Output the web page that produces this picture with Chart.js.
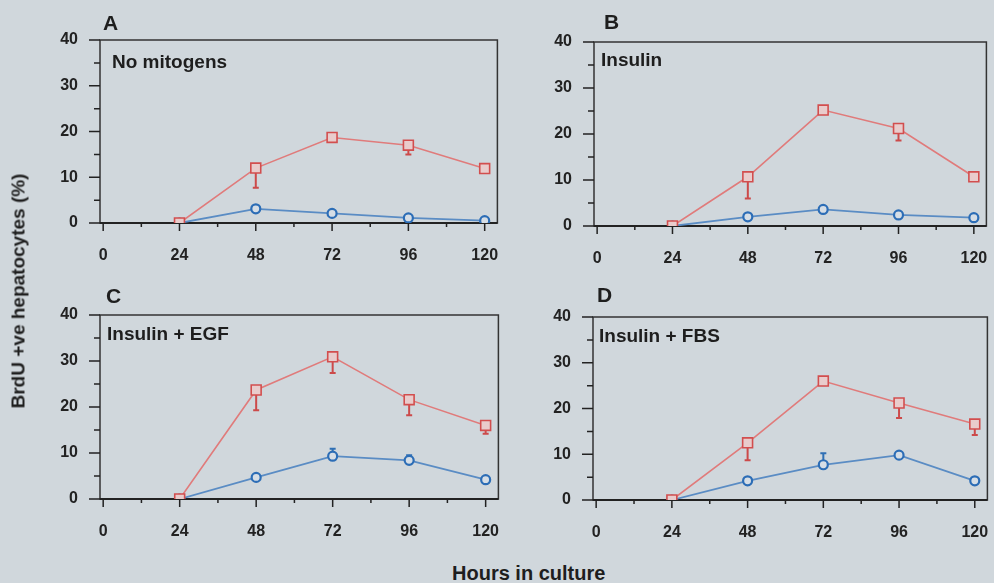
<!DOCTYPE html>
<html>
<head>
<meta charset="utf-8">
<script src="https://cdn.jsdelivr.net/npm/chart.js@4.4.0/dist/chart.umd.min.js"></script>
<style>
  body { margin: 0; width: 994px; height: 583px; overflow: hidden; position: relative;
         background: #d0d7dc; font-family: "Liberation Sans", Arial, sans-serif; font-weight: bold; color: #1e1e1e; }
  canvas { position: absolute; }
  .lbl { position: absolute; line-height: 1; white-space: nowrap; z-index: 2; }
  .letter { font-size: 21px; }
  .cond { font-size: 19px; }
</style>
</head>
<body>
<canvas id="chartA"></canvas>
<canvas id="chartB"></canvas>
<canvas id="chartC"></canvas>
<canvas id="chartD"></canvas>

<div class="lbl letter" style="left:103px;top:12px">A</div>
<div class="lbl letter" style="left:604px;top:11px">B</div>
<div class="lbl letter" style="left:106px;top:285px">C</div>
<div class="lbl letter" style="left:597px;top:284px">D</div>

<div class="lbl cond" style="left:112px;top:52px">No mitogens</div>
<div class="lbl cond" style="left:601px;top:50px">Insulin</div>
<div class="lbl cond" style="left:107px;top:324px">Insulin + EGF</div>
<div class="lbl cond" style="left:599px;top:326px">Insulin + FBS</div>

<div class="lbl" style="font-size:19px;left:18px;top:291px;transform:translate(-50%,-50%) rotate(-90deg)">BrdU +ve hepatocytes (%)</div>
<div class="lbl" style="font-size:20px;left:452px;top:563px">Hours in culture</div>

<script>
// time points (hours in culture)
const hours = [24, 48, 72, 96, 120];

// axis ticks
const xTicks = [0, 24, 48, 72, 96, 120];
const xMinor = [12, 36, 60, 84, 108];
const yTicks = [0, 10, 20, 30, 40];
const yMinor = [5, 15, 25, 35];

// A: no mitogens
const redA = [0, 12.0, 18.7, 17.0, 11.9];
const redErrA = [0, 4.3, 0.4, 2.0, 0];
const blueA = [0, 3.1, 2.1, 1.1, 0.5];
const blueErrA = [0, 0, 0, 0, 0];

// B: insulin
const redB = [0, 10.7, 25.2, 21.2, 10.7];
const redErrB = [0, 4.7, 0, 2.6, 0];
const blueB = [0, 2.0, 3.6, 2.4, 1.8];
const blueErrB = [0, 0, 0, 0, 0];

// C: insulin + EGF
const redC = [0, 23.7, 30.9, 21.6, 16.0];
const redErrC = [0, 4.4, 3.5, 3.4, 1.8];
const blueC = [0, 4.7, 9.3, 8.4, 4.2];
const blueErrC = [0, 0, 1.6, 1.1, 0];

// D: insulin + FBS
const redD = [0, 12.5, 26.0, 21.2, 16.6];
const redErrD = [0, 3.8, 0.7, 3.3, 2.4];
const blueD = [0, 4.2, 7.7, 9.8, 4.2];
const blueErrD = [0, 0, 2.5, 0, 0];

// plot area of each panel, in page pixels
const panels = [
  { id: 'chartA', left: 100, top: 40,  right: 497, bottom: 223, red: redA, redErr: redErrA, blue: blueA, blueErr: blueErrA },
  { id: 'chartB', left: 594, top: 42,  right: 986, bottom: 226, red: redB, redErr: redErrB, blue: blueB, blueErr: blueErrB },
  { id: 'chartC', left: 100, top: 315, right: 498, bottom: 499, red: redC, redErr: redErrC, blue: blueC, blueErr: blueErrC },
  { id: 'chartD', left: 593, top: 317, right: 987, bottom: 500, red: redD, redErr: redErrD, blue: blueD, blueErr: blueErrD },
];

const INK = '#222';
const tickFont = { family: '"Liberation Sans", Arial, sans-serif', size: 16, weight: 'bold' };

// box, tick marks and one-sided error bars
const framePlugin = {
  id: 'framePlugin',
  beforeDatasetsDraw(chart) {
    const { ctx, chartArea: a, scales: { x, y } } = chart;
    ctx.save();
    ctx.strokeStyle = '#333';
    ctx.lineWidth = 1.5;
    ctx.strokeRect(a.left, a.top, a.right - a.left, a.bottom - a.top);
    ctx.strokeStyle = INK;
    ctx.lineWidth = 2;
    ctx.beginPath();
    ctx.moveTo(a.left, a.bottom); ctx.lineTo(a.right, a.bottom);
    ctx.stroke();

    ctx.lineWidth = 1.5;
    ctx.beginPath();
    xTicks.forEach(v => { const px = x.getPixelForValue(v); ctx.moveTo(px, a.bottom); ctx.lineTo(px, a.bottom + 8); });
    xMinor.forEach(v => { const px = x.getPixelForValue(v); ctx.moveTo(px, a.bottom); ctx.lineTo(px, a.bottom + 4); });
    yTicks.forEach(v => { const py = y.getPixelForValue(v); ctx.moveTo(a.left, py); ctx.lineTo(a.left - 11, py); });
    yMinor.forEach(v => { const py = y.getPixelForValue(v); ctx.moveTo(a.left, py); ctx.lineTo(a.left - 6, py); });
    ctx.stroke();

    chart.data.datasets.forEach(ds => {
      ctx.strokeStyle = ds.errColor;
      ctx.lineWidth = 2;
      ctx.beginPath();
      ds.data.forEach((p, i) => {
        const e = ds.errors[i];
        if (!e) return;
        const px = x.getPixelForValue(p.x);
        const y0 = y.getPixelForValue(p.y);
        const y1 = y.getPixelForValue(p.y + ds.errDir * e);
        ctx.moveTo(px, y0); ctx.lineTo(px, y1);
        ctx.moveTo(px - 3, y1); ctx.lineTo(px + 3, y1);
      });
      ctx.stroke();
    });
    ctx.restore();
  }
};

function toPoints(vals) {
  return vals.map((v, i) => ({ x: hours[i], y: v }));
}

// fixed scale sizes, no extra room for overhanging labels
function fixSize(s, w, h) {
  if (w != null) s.width = w;
  if (h != null) s.height = h;
  s.paddingLeft = s.paddingRight = s.paddingTop = s.paddingBottom = 0;
}

function makeChart(cv, p) {
  return new Chart(cv.getContext('2d'), {
    type: 'line',
    data: {
      datasets: [
        {
          data: toPoints(p.red), errors: p.redErr, errDir: -1, errColor: '#cc4a4a',
          borderColor: '#e07b7b', borderWidth: 1.6,
          pointStyle: 'rect', pointRadius: 7, pointBorderWidth: 1.6,
          pointBorderColor: '#d24e4e', pointBackgroundColor: '#e9cccc'
        },
        {
          data: toPoints(p.blue), errors: p.blueErr, errDir: 1, errColor: '#2f6fb4',
          borderColor: '#5a8cc4', borderWidth: 1.8,
          pointStyle: 'circle', pointRadius: 4.5, pointBorderWidth: 2.2,
          pointBorderColor: '#2c6db6', pointBackgroundColor: '#d6dee6'
        }
      ]
    },
    options: {
      responsive: false,
      animation: false,
      devicePixelRatio: 1,
      layout: { padding: { top: 40, right: 2, left: 0, bottom: 0 } },
      plugins: { legend: { display: false }, tooltip: { enabled: false } },
      scales: {
        x: {
          type: 'linear', min: -1, max: 124,
          afterBuildTicks: s => { s.ticks = xTicks.map(v => ({ value: v })); },
          afterFit: s => fixSize(s, null, 50),
          grid: { display: false, drawTicks: false },
          border: { display: false },
          ticks: { font: tickFont, color: INK, padding: 23, maxRotation: 0, autoSkip: false }
        },
        y: {
          min: 0, max: 40,
          afterBuildTicks: s => { s.ticks = yTicks.map(v => ({ value: v })); },
          afterFit: s => fixSize(s, 100, null),
          grid: { display: false, drawTicks: false },
          border: { display: false },
          ticks: { font: tickFont, color: INK, padding: 22, autoSkip: false }
        }
      }
    },
    plugins: [framePlugin]
  });
}

panels.forEach(p => {
  const cv = document.getElementById(p.id);
  const cLeft = p.left - 100, cTop = p.top - 40;
  let w = p.right - cLeft + 2;
  const h = p.bottom - cTop + 50;
  cv.style.left = cLeft + 'px';
  cv.style.top = cTop + 'px';
  cv.width = w; cv.height = h;
  let chart = makeChart(cv, p);
  // widen the canvas if the layout left less room than wanted on the right
  const dx = Math.round(p.right - (cLeft + chart.chartArea.right));
  if (dx !== 0) {
    chart.destroy();
    cv.removeAttribute('style');
    cv.style.left = cLeft + 'px';
    cv.style.top = cTop + 'px';
    cv.width = w + dx; cv.height = h;
    chart = makeChart(cv, p);
  }
});
</script>
</body>
</html>
